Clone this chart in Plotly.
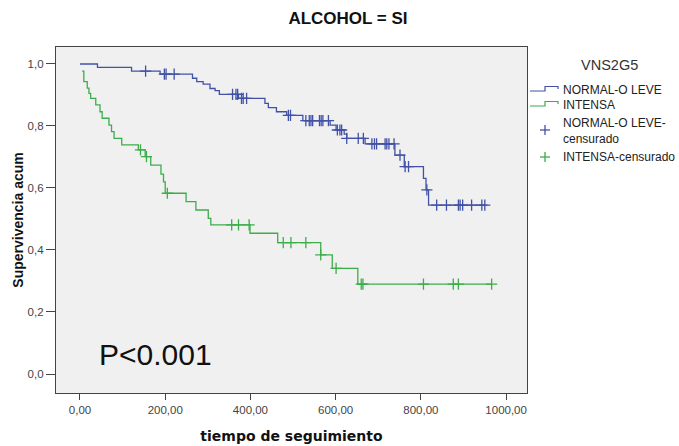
import numpy as np
import plotly.graph_objects as go

# ---- data ----
legend_title = "VNS2G5"
blue_name = "NORMAL-O LEVE"
green_name = "INTENSA"

blue_t = [0, 41, 121, 188, 264, 274, 289, 305, 317, 327, 372, 434, 442, 461, 485,
          523, 587, 601, 620, 626, 669, 739, 761, 806, 812, 818, 950]
blue_s = [1.0, 0.989, 0.977, 0.967, 0.954, 0.943, 0.935, 0.921, 0.914, 0.902, 0.889,
          0.873, 0.859, 0.846, 0.834, 0.817, 0.803, 0.787, 0.774, 0.760, 0.742,
          0.706, 0.669, 0.631, 0.594, 0.545, 0.545]
blue_cens = [154, 198, 202, 221, 358, 366, 370, 379, 383, 391, 489, 494, 530, 538,
             542, 546, 562, 566, 570, 583, 604, 610, 614, 626, 653, 665, 685, 691,
             696, 716, 720, 725, 737, 751, 763, 771, 814, 837, 860, 888, 892, 898,
             919, 943, 950]

green_t = [5, 9, 17, 21, 25, 37, 47, 52, 68, 74, 80, 98, 137, 153, 166, 190, 196,
           200, 249, 272, 301, 307, 399, 464, 565, 592, 652, 966]
green_s = [0.977, 0.943, 0.922, 0.905, 0.889, 0.868, 0.846, 0.825, 0.803, 0.782,
           0.760, 0.739, 0.723, 0.701, 0.674, 0.645, 0.620, 0.583, 0.556, 0.529,
           0.502, 0.481, 0.454, 0.424, 0.384, 0.341, 0.290, 0.290]
green_cens = [142, 156, 205, 356, 372, 397, 477, 495, 530, 565, 601, 660, 664, 806,
              876, 888, 966]

x_ticks = [0, 200, 400, 600, 800, 1000]
y_ticks = [0.0, 0.2, 0.4, 0.6, 0.8, 1.0]


def surv_at(times, surv, pts):
    times = np.asarray(times)
    surv = np.asarray(surv)
    idx = np.searchsorted(times, np.asarray(pts), side="right") - 1
    return surv[idx]


BLUE = "#4152a6"
GREEN = "#3cad4a"
FONT = "Liberation Sans, Arial"

# plot-area geometry in pixels (used for the hand-drawn legend)
W, H = 679, 446
L, R, T, B = 56, 152, 47, 53
PW, PH = W - L - R, H - T - B


def px(xp):
    return (xp - L) / PW


def py(yp):
    return (H - B - yp) / PH


fig = go.Figure()
fig.add_trace(go.Scatter(x=blue_t, y=blue_s, mode="lines", line_shape="hv",
                         line=dict(color=BLUE, width=1.3), name=blue_name))
fig.add_trace(go.Scatter(x=green_t, y=green_s, mode="lines", line_shape="hv",
                         line=dict(color=GREEN, width=1.3), name=green_name))
fig.add_trace(go.Scatter(x=blue_cens, y=surv_at(blue_t, blue_s, blue_cens),
                         mode="markers",
                         marker=dict(symbol="cross-thin", size=8,
                                     line=dict(color=BLUE, width=1.3)),
                         name=blue_name + "-censurado"))
fig.add_trace(go.Scatter(x=green_cens, y=surv_at(green_t, green_s, green_cens),
                         mode="markers",
                         marker=dict(symbol="cross-thin", size=8,
                                     line=dict(color=GREEN, width=1.3)),
                         name=green_name + "-censurado"))

# ---- legend drawn by hand (SPSS style) ----
ann = []
shapes = []
ann.append(dict(text=legend_title, x=px(609), y=py(65), xanchor="center",
                yanchor="middle", font=dict(family=FONT, size=14.5, color="#333")))
items = [(blue_name, 90, BLUE), (green_name, 105, GREEN)]
for name, yc, col in items:
    ann.append(dict(text=name, x=px(561), y=py(yc), xanchor="left", yanchor="middle",
                    font=dict(family=FONT, size=12, color="#222")))
    path = "M {} {} L {} {} L {} {} L {} {} L {} {}".format(
        px(530), py(yc + 1), px(545), py(yc + 1), px(545), py(yc - 3.5),
        px(558), py(yc - 3.5), px(558), py(yc - 1))
    shapes.append(dict(type="path", path=path, xref="paper", yref="paper",
                       line=dict(color=col, width=1.2)))
cens_items = [(blue_name + "-<br>censurado", 131, 130, BLUE),
              (green_name + "-censurado", 157, 157, GREEN)]
for text, ty, yc, col in cens_items:
    ann.append(dict(text=text, x=px(561), y=py(ty), xanchor="left",
                    yanchor="middle", align="left",
                    font=dict(family=FONT, size=12, color="#222")))
    shapes.append(dict(type="line", xref="paper", yref="paper",
                       x0=px(540), x1=px(550), y0=py(yc), y1=py(yc),
                       line=dict(color=col, width=1.3)))
    shapes.append(dict(type="line", xref="paper", yref="paper",
                       x0=px(545), x1=px(545), y0=py(yc - 5), y1=py(yc + 5),
                       line=dict(color=col, width=1.3)))

ann.append(dict(text="P<0.001", x=0.087, y=0.11, xanchor="left", yanchor="middle",
                font=dict(family=FONT, size=30, color="#111")))
for a in ann:
    a.update(xref="paper", yref="paper", showarrow=False)

fig.update_layout(
    width=W, height=H,
    margin=dict(l=L, r=R, t=T, b=B, pad=0, autoexpand=False),
    paper_bgcolor="white", plot_bgcolor="#f0f0f0",
    separators=",.",
    showlegend=False,
    annotations=ann, shapes=shapes,
    title=dict(text="<b>ALCOHOL = SI</b>", x=348 / W, xanchor="center",
               xref="container", y=1 - 18 / H, yref="container", yanchor="middle",
               font=dict(family=FONT, size=17, color="#111")),
)
fig.update_xaxes(range=[-56.3, 1049], tickvals=x_ticks, tickformat=".2f",
                 ticks="outside", ticklen=6, tickcolor="#444", tickwidth=1.2,
                 showline=True, linecolor="#444", linewidth=1.2, mirror=True,
                 showgrid=False, zeroline=False,
                 tickfont=dict(family=FONT, size=11.5, color="#444"),
                 title=dict(text="<b>tiempo de seguimiento</b>", standoff=16,
                            font=dict(family="DejaVu Sans", size=14, color="#111")))
fig.update_yaxes(range=[-0.0613, 1.0548], tickvals=y_ticks, tickformat=".1f",
                 ticks="outside", ticklen=9, tickcolor="#444", tickwidth=1.2,
                 showline=True, linecolor="#444", linewidth=1.2, mirror=True,
                 showgrid=False, zeroline=False,
                 tickfont=dict(family=FONT, size=11.5, color="#444"),
                 title=dict(text="<b>Supervivencia acum</b>", standoff=0,
                            font=dict(family=FONT, size=14, color="#111")))

fig.write_html("out.html")
